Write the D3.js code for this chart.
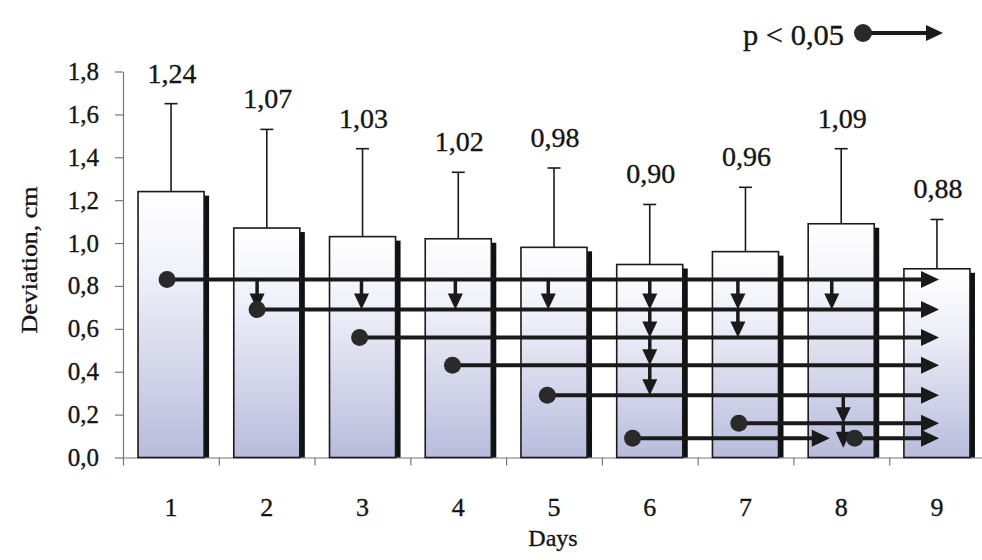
<!DOCTYPE html>
<html>
<head>
<meta charset="utf-8">
<script src="https://cdn.jsdelivr.net/npm/d3@7"></script>
<style>
  html, body { margin: 0; padding: 0; background: #ffffff; }
  svg { display: block; }
  text { font-family: "Liberation Serif", "Times New Roman", serif; fill: #151515; stroke: #151515; stroke-width: 0.35px; }
</style>
</head>
<body>
<div id="chart"></div>
<script>
// ---------------- data ----------------
const days = ["1", "2", "3", "4", "5", "6", "7", "8", "9"];
const means = [1.24, 1.07, 1.03, 1.02, 0.98, 0.90, 0.96, 1.09, 0.88];
const sdUpper = [0.41, 0.46, 0.41, 0.31, 0.37, 0.28, 0.30, 0.35, 0.23];
const yTicks = [0, 0.2, 0.4, 0.6, 0.8, 1.0, 1.2, 1.4, 1.6, 1.8];

// significance lines (p < 0,05): start (dot) position in day units, end position, level
const sigFrom  = [0.96, 1.90, 2.97, 3.94, 4.93, 6.93, 5.82, 8.14];
const sigTo    = [9.02, 9.02, 9.02, 9.02, 9.02, 9.02, 7.88, 9.02];
const sigLevel = [0.83, 0.69, 0.56, 0.43, 0.29, 0.16, 0.09, 0.09];

// downward arrows: day position, from level, to level
const dropDay  = [1.90, 2.99, 3.97, 4.94, 6.0, 6.0, 6.0, 6.0, 6.92, 6.92, 7.90, 8.02, 8.02];
const dropFrom = [0.83, 0.83, 0.83, 0.83, 0.83, 0.69, 0.56, 0.43, 0.83, 0.69, 0.83, 0.29, 0.16];
const dropTo   = [0.69, 0.69, 0.69, 0.69, 0.69, 0.56, 0.43, 0.29, 0.69, 0.56, 0.69, 0.16, 0.045];

const legendText = "p < 0,05";
const yTitle = "Deviation, cm";
const xTitle = "Days";

// ---------------- drawing ----------------
const W = 982, H = 560;
const svg = d3.select("#chart").append("svg").attr("width", W).attr("height", H);

const locale = d3.formatLocale({ decimal: ",", thousands: " ", grouping: [3], currency: ["", ""] });
const fmt1 = locale.format(".1f");
const fmt2 = locale.format(".2f");

const y = d3.scaleLinear().domain([0, 1.8]).range([457.5, 71.5]);
const x = d3.scaleLinear().domain([0.5, 9.5]).range([123, 985]);
const xb = d3.scaleBand().domain(days).range([123, 985]).paddingInner(0.31).paddingOuter(0.157);
const bw = xb.bandwidth();

const defs = svg.append("defs");
const grad = defs.append("linearGradient").attr("id", "barGrad")
  .attr("x1", 0).attr("y1", 0).attr("x2", 0).attr("y2", 1);
grad.append("stop").attr("offset", "0%").attr("stop-color", "#ffffff");
grad.append("stop").attr("offset", "30%").attr("stop-color", "#f0f1f9");
grad.append("stop").attr("offset", "100%").attr("stop-color", "#b8bcdc");

// y axis
const yAxis = svg.append("g").attr("transform", "translate(123,0)")
  .call(d3.axisLeft(y).tickValues(yTicks).tickSize(8).tickSizeOuter(0).tickPadding(16).tickFormat(fmt1));
yAxis.select(".domain").attr("stroke", "#777").attr("stroke-width", 1.2);
yAxis.selectAll(".tick line").attr("stroke", "#777").attr("stroke-width", 1.2);
yAxis.selectAll(".tick text").style("font-family", "Liberation Serif").style("font-size", "25px").attr("fill", "#151515");

// x axis (category boundary ticks)
const xAxis = svg.append("g").attr("transform", "translate(0,457.5)")
  .call(d3.axisBottom(x).tickValues(d3.range(0.5, 10, 1)).tickSize(8).tickSizeOuter(0).tickFormat(""));
xAxis.select(".domain").attr("stroke", "#777").attr("stroke-width", 1.2);
xAxis.selectAll(".tick line").attr("stroke", "#777").attr("stroke-width", 1.2);

// x day labels
const xLab = svg.append("g").attr("transform", "translate(0,457.5)")
  .call(d3.axisBottom(xb).tickSize(0).tickPadding(40));
xLab.select(".domain").remove();
xLab.selectAll(".tick text").style("font-family", "Liberation Serif").style("font-size", "26px").attr("fill", "#151515");

// bars: shadow then body
const bars = svg.append("g");
bars.selectAll("rect.shadow").data(means).join("rect").attr("class", "shadow")
  .attr("x", (d, i) => xb(days[i]) + bw - 1)
  .attr("y", d => y(d) + 4)
  .attr("width", 6)
  .attr("height", d => y(0) - y(d) - 4)
  .attr("fill", "#111");
bars.selectAll("rect.bar").data(means).join("rect").attr("class", "bar")
  .attr("x", (d, i) => xb(days[i]))
  .attr("y", d => y(d))
  .attr("width", bw)
  .attr("height", d => y(0) - y(d))
  .attr("fill", "url(#barGrad)")
  .attr("stroke", "#1a1a1a").attr("stroke-width", 1.6);

// error bars (upper)
const eb = svg.append("g").attr("stroke", "#1a1a1a").attr("stroke-width", 1.6);
means.forEach((m, i) => {
  const cx = xb(days[i]) + bw / 2;
  eb.append("line").attr("x1", cx).attr("x2", cx).attr("y1", y(m)).attr("y2", y(m + sdUpper[i]));
  eb.append("line").attr("x1", cx - 6.5).attr("x2", cx + 6.5).attr("y1", y(m + sdUpper[i])).attr("y2", y(m + sdUpper[i]));
});

// value labels
svg.append("g").selectAll("text").data(means).join("text")
  .attr("x", (d, i) => xb(days[i]) + bw / 2 + 1)
  .attr("y", (d, i) => y(d + sdUpper[i]) - 21)
  .attr("text-anchor", "middle")
  .style("font-size", "28px")
  .text(d => fmt2(d));

// significance structure
const sig = svg.append("g");
const lw = 4;
// horizontal lines with right arrowheads
sigFrom.forEach((f, i) => {
  const yy = y(sigLevel[i]);
  const tx = x(sigTo[i]);
  sig.append("line").attr("x1", x(f)).attr("x2", tx - 10).attr("y1", yy).attr("y2", yy)
    .attr("stroke", "#1a1a1a").attr("stroke-width", lw);
  sig.append("path").attr("d", `M${tx},${yy} L${tx - 18},${yy - 8.5} L${tx - 18},${yy + 8.5} Z`)
    .attr("fill", "#1a1a1a");
});
// downward arrows
dropDay.forEach((d, i) => {
  const xx = x(d);
  const y1 = y(dropFrom[i]);
  const ty = y(dropTo[i]);
  sig.append("line").attr("x1", xx).attr("x2", xx).attr("y1", y1).attr("y2", ty - 8)
    .attr("stroke", "#1a1a1a").attr("stroke-width", lw - 0.5);
  sig.append("path").attr("d", `M${xx},${ty} L${xx - 7.5},${ty - 16} L${xx + 7.5},${ty - 16} Z`)
    .attr("fill", "#1a1a1a");
});
// dots
sig.selectAll("circle").data(sigFrom).join("circle")
  .attr("cx", d => x(d))
  .attr("cy", (d, i) => y(sigLevel[i]))
  .attr("r", 8.5)
  .attr("fill", "#2a2a2a");

// legend
const lg = svg.append("g");
lg.append("text").attr("x", 743).attr("y", 45)
  .attr("textLength", 101).attr("lengthAdjust", "spacingAndGlyphs")
  .style("font-size", "29px").text(legendText);
lg.append("line").attr("x1", 863).attr("x2", 932).attr("y1", 33).attr("y2", 33)
  .attr("stroke", "#1a1a1a").attr("stroke-width", lw);
lg.append("path").attr("d", "M943,33 L926,25 L926,41 Z").attr("fill", "#1a1a1a");
lg.append("circle").attr("cx", 863).attr("cy", 33).attr("r", 9).attr("fill", "#2a2a2a");

// axis titles
svg.append("text")
  .attr("transform", "translate(37,260) rotate(-90)")
  .attr("text-anchor", "middle")
  .attr("textLength", 147).attr("lengthAdjust", "spacingAndGlyphs")
  .style("font-size", "23px")
  .text(yTitle);
svg.append("text")
  .attr("x", 553).attr("y", 546)
  .attr("text-anchor", "middle")
  .style("font-size", "24px")
  .text(xTitle);
</script>
</body>
</html>
